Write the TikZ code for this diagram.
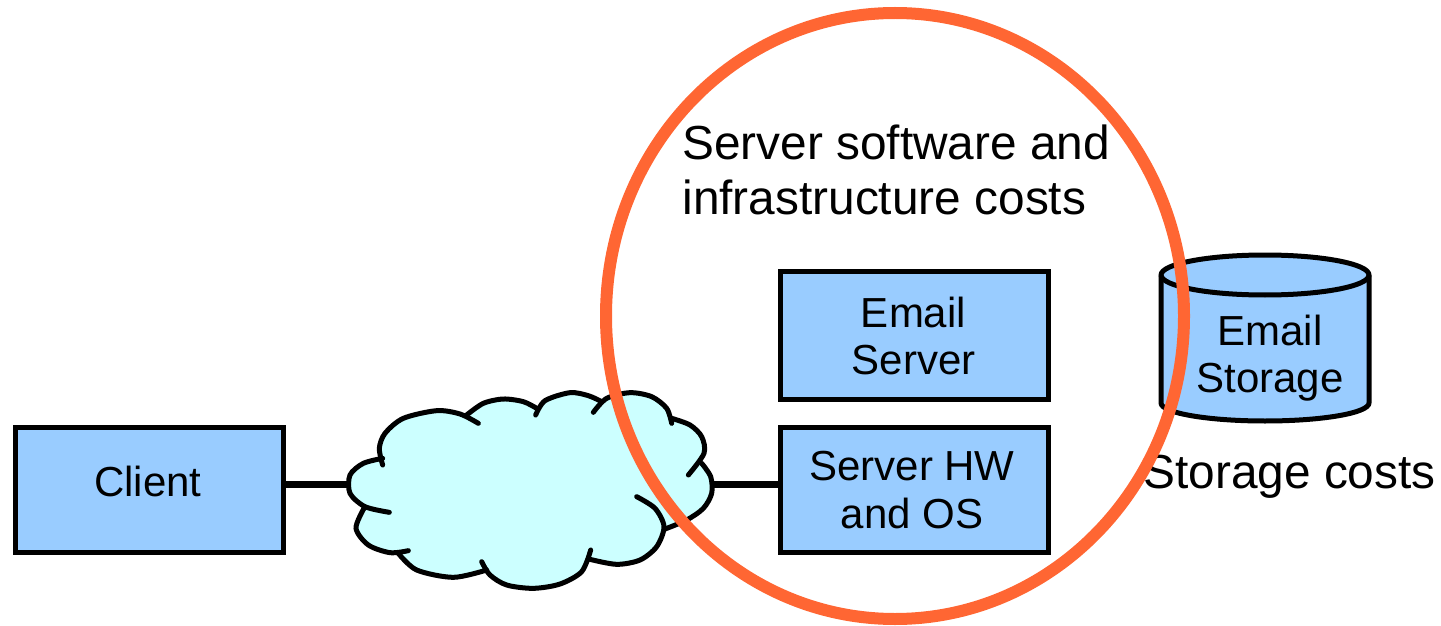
\documentclass[tikz,border=0pt]{standalone}
\usepackage{fontspec}
\setmainfont{Liberation Sans}
\definecolor{boxblue}{HTML}{99CCFF}
\definecolor{cloudcyan}{HTML}{CCFFFF}
\definecolor{ringorange}{HTML}{FF6633}
\tikzset{
 bluebox/.style={draw=black,fill=boxblue,line width=2.5pt,minimum width=134pt,minimum height=62.5pt,inner sep=0pt},
 wire/.style={draw=black,line width=3.5pt},
 cloudline/.style={draw=black,line width=2.5pt,line cap=round},
 cloudfill/.style={fill=cloudcyan,draw=cloudcyan,line width=1.5pt,line join=round},
 bigtext/.style={inner sep=0pt,align=left,font=\fontsize{23.9}{27.5}\selectfont},
 midtext/.style={inner sep=0pt,align=center,font=\fontsize{21}{23.8}\selectfont},
}
\newcommand{\bumpA}{(128,255)(118,205)(135,160)(190,115)(290,92)(360,102)(415,130)}
\newcommand{\bumpB}{(380,105)(430,70)(490,57)(550,65)(590,85)}
\newcommand{\bumpC}{(587,105)(615,62)(690,38)(745,47)(785,65)}
\newcommand{\bumpD}{(760,97)(800,55)(870,38)(935,50)(980,85)(995,130)}
\newcommand{\bumpE}{(995,115)(1050,135)(1085,170)(1092,220)(1045,285)}
\newcommand{\bumpF}{(1085,250)(1112,290)(1115,340)(1090,385)(1040,420)(975,447)}
\newcommand{\bumpG}{(890,350)(945,385)(972,440)(950,500)(900,540)(830,553)(750,538)}
\newcommand{\bumpH}{(752,510)(725,575)(660,612)(580,625)(500,615)(450,585)(425,545)}
\newcommand{\bumpI}{(175,520)(230,570)(340,592)(440,570)}
\newcommand{\bumpJ}{(205,512)(150,518)(85,495)(48,445)(72,385)}
\newcommand{\bumpK}{(148,397)(75,380)(30,340)(30,285)(70,250)(128,235)}
\begin{document}
\begin{tikzpicture}[x=0.5pt,y=-0.5pt]
\useasboundingbox (0,0) rectangle (1441,626);
\coordinate (cloudL) at (350,484);
\coordinate (cloudR) at (712,484);
% boxes
\node[bluebox] (client) at (149,489.5) {};
\node[inner sep=0pt,font=\fontsize{21}{23.8}\selectfont] (clientlabel) at (148,481) {Client};
\node[bluebox,minimum height=64pt] (mail) at (914,335) {};
\node[midtext] (maillabel) at (913.5,336) {Email\\Server};
\node[bluebox] (hw) at (914.5,489.5) {};
\node[midtext] (hwlabel) at (912,490) {Server HW\\and OS};
\draw[wire] (client.east |- cloudL) -- (cloudL);
\draw[wire] (cloudR) -- (hw.west |- cloudR);
% cloud, drawn in 3x-enlarged coordinates
\begin{scope}[shift={(340,380)},x=0.16667pt,y=-0.16667pt]
\foreach \b in {\bumpA,\bumpB,\bumpC,\bumpD,\bumpE,\bumpF,\bumpG,\bumpH,\bumpI,\bumpJ,\bumpK}{
  \fill[cloudfill] plot[smooth] coordinates {\b} -- cycle;
}
\fill[cloudfill] (128,235) -- (200,150) -- (380,105) -- (590,85) -- (690,75) -- (785,65) -- (870,75) -- (995,115) -- (1085,250) -- (1112,320) -- (975,447) -- (750,538) -- (590,615) -- (430,560) -- (175,515) -- (75,385) -- (35,310) -- cycle;
\foreach \b in {\bumpA,\bumpB,\bumpC,\bumpD,\bumpE,\bumpF,\bumpG,\bumpH,\bumpI,\bumpJ,\bumpK}{
  \draw[cloudline] plot[smooth] coordinates {\b};
}
\end{scope}
% cylinder
\draw[fill=boxblue,line width=2.5pt,line join=round] (1161,275) -- (1161,403) arc[start angle=180,end angle=0,x radius=104,y radius=18] -- (1369,275) arc[start angle=0,end angle=-180,x radius=104,y radius=20] -- cycle;
\draw[line width=2.5pt] (1161,275) arc[start angle=180,end angle=0,x radius=104,y radius=20];
\node[midtext] (stor) at (1270,358) {Email\\Storage};
% captions
\node[bigtext,anchor=west] (cap) at (682,170) {Server software and\\infrastructure costs};
\node[bigtext,anchor=west] (scost) at (1143,477) {Storage costs};
% ring
\draw[ringorange,line width=6pt] (895,316) ellipse[x radius=289,y radius=303];
\end{tikzpicture}
\end{document}
